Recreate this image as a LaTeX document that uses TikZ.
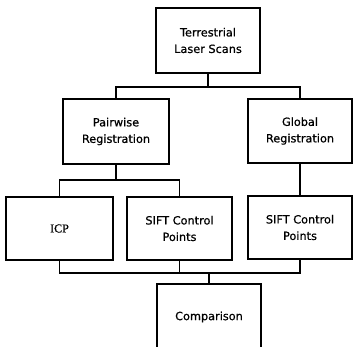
\documentclass[tikz,border=0pt]{standalone}
\usepackage{fontspec}
\setmainfont{DejaVu Sans}
\newfontfamily\boxfont[FakeBold=0.6]{DejaVu Sans}
\newfontfamily\icpfont[FakeBold=0.8]{Liberation Serif}
\begin{document}
\begin{tikzpicture}[x=1pt,y=-1pt,
  box/.style={draw=black,line width=1.3pt,minimum width=#1,align=center,inner sep=0pt,font=\boxfont\fontsize{11.3}{16.5}\selectfont},
  conn/.style={line width=1.1pt,draw=black}]
\useasboundingbox[fill=white] (0,0) rectangle (353,347);
\node[box=104pt,minimum height=65pt] (tls) at (208,40.5) {Terrestrial\\Laser Scans};
\node[box=106pt,minimum height=65pt] (pw) at (116,131.5) {Pairwise\\Registration};
\node[box=104pt,minimum height=64pt] (gr) at (300,131) {Global\\Registration};
\node[box=107pt,minimum height=63pt] (icp) at (59.5,228.5) {\icpfont\fontsize{12}{14}\selectfont ICP};
\node[box=105pt,minimum height=63pt] (s1) at (179.5,228.5) {SIFT Control\\Points};
\node[box=104pt,minimum height=63pt] (s2) at (300,227.5) {SIFT Control\\Points};
\node[box=104pt,minimum height=66pt] (cmp) at (209,317) {Comparison};
\coordinate (j1) at (208,87);
\coordinate (j2) at (116,180);
\coordinate (j3) at (209,273);
\draw[conn] (tls.south) -- (j1);
\draw[conn] (pw.north) |- (j1);
\draw[conn] (gr.north) |- (j1);
\draw[conn] (pw.south) -- (j2);
\draw[conn] (icp.north) |- (j2);
\draw[conn] (s1.north) |- (j2);
\draw[conn] (gr.south) -- (s2.north);
\draw[conn] (icp.south) |- (j3);
\draw[conn] (s1.south) |- (j3);
\draw[conn] (s2.south) |- (j3);
\draw[conn] (j3) -- (cmp.north);
\end{tikzpicture}
\end{document}
